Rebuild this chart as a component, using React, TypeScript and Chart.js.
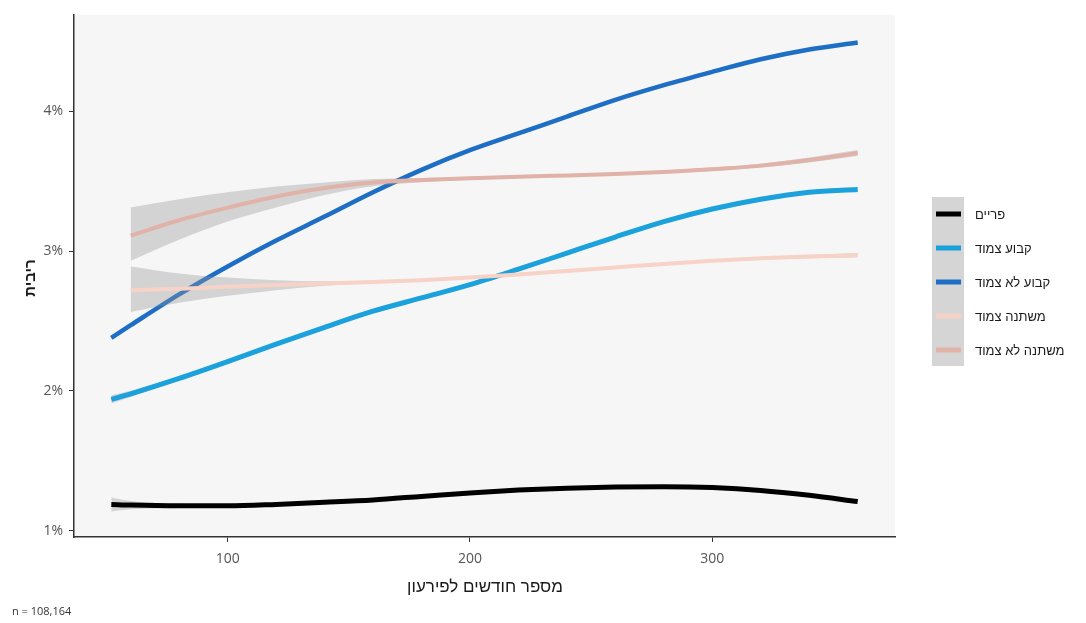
import { useEffect, useRef } from "react";
import { Chart, registerables } from "chart.js";

Chart.register(...registerables);

// Months to payoff (x) at which the smoothed curves are sampled
const months = [52, 60, 80, 100, 120, 140, 160, 180, 200, 220, 240, 260, 280, 300, 320, 340, 360];

// Smoothed interest rate (%) per mortgage track; null = no estimate at that term
const prime = [1.19, 1.185, 1.18, 1.18, 1.19, 1.205, 1.222, 1.247, 1.272, 1.292, 1.306, 1.314, 1.316, 1.31, 1.29, 1.255, 1.21];
const primeLow = [1.14, 1.155, 1.165, 1.171, 1.183, 1.199, 1.216, 1.241, 1.266, 1.286, 1.3, 1.308, 1.31, 1.304, 1.283, 1.247, 1.2];
const primeHigh = [1.24, 1.215, 1.195, 1.189, 1.197, 1.211, 1.228, 1.253, 1.278, 1.298, 1.312, 1.32, 1.322, 1.316, 1.297, 1.263, 1.22];

const fixedIndexed = [1.94, 1.98, 2.09, 2.21, 2.335, 2.455, 2.57, 2.665, 2.76, 2.87, 2.985, 3.1, 3.21, 3.3, 3.37, 3.42, 3.44];
const fixedIndexedLow = [1.91, 1.958, 2.077, 2.202, 2.328, 2.449, 2.564, 2.659, 2.754, 2.864, 2.979, 3.094, 3.203, 3.292, 3.361, 3.408, 3.425];
const fixedIndexedHigh = [1.97, 2.002, 2.103, 2.218, 2.342, 2.461, 2.576, 2.671, 2.766, 2.876, 2.991, 3.106, 3.217, 3.308, 3.379, 3.432, 3.455];

const fixedNonIndexed = [2.38, 2.47, 2.69, 2.89, 3.075, 3.246, 3.42, 3.58, 3.72, 3.84, 3.96, 4.08, 4.185, 4.28, 4.37, 4.44, 4.49];
const fixedNonIndexedLow = [2.368, 2.461, 2.684, 2.885, 3.07, 3.241, 3.415, 3.575, 3.715, 3.835, 3.955, 4.074, 4.179, 4.274, 4.363, 4.431, 4.479];
const fixedNonIndexedHigh = [2.392, 2.479, 2.696, 2.895, 3.08, 3.251, 3.425, 3.585, 3.725, 3.845, 3.965, 4.086, 4.191, 4.286, 4.377, 4.449, 4.501];

const variableIndexed = [null, 2.72, 2.73, 2.745, 2.757, 2.768, 2.779, 2.792, 2.81, 2.832, 2.857, 2.883, 2.908, 2.93, 2.948, 2.96, 2.97];
const variableIndexedLow = [null, 2.565, 2.63, 2.68, 2.72, 2.752, 2.77, 2.785, 2.804, 2.826, 2.851, 2.877, 2.901, 2.922, 2.938, 2.948, 2.955];
const variableIndexedHigh = [null, 2.89, 2.84, 2.81, 2.792, 2.784, 2.788, 2.799, 2.816, 2.838, 2.863, 2.889, 2.915, 2.938, 2.958, 2.972, 2.985];

const variableNonIndexed = [null, 3.11, 3.22, 3.31, 3.39, 3.45, 3.49, 3.507, 3.52, 3.53, 3.54, 3.55, 3.565, 3.584, 3.61, 3.65, 3.7];
const variableNonIndexedLow = [null, 2.93, 3.08, 3.21, 3.31, 3.4, 3.462, 3.492, 3.509, 3.521, 3.531, 3.541, 3.555, 3.572, 3.596, 3.632, 3.678];
const variableNonIndexedHigh = [null, 3.31, 3.37, 3.42, 3.46, 3.49, 3.514, 3.522, 3.531, 3.539, 3.549, 3.559, 3.575, 3.596, 3.624, 3.668, 3.722];

const xTicks = [100, 200, 300];
const yTicks = [1, 2, 3, 4];

const xTitle = "מספר חודשים לפירעון";
const yTitle = "ריבית";
const caption = "n = 108,164";

const series = [
  { label: "פריים", values: prime, low: primeLow, high: primeHigh, color: "#000000", width: 5 },
  { label: "קבוע צמוד", values: fixedIndexed, low: fixedIndexedLow, high: fixedIndexedHigh, color: "#1ba1dc", width: 5 },
  { label: "קבוע לא צמוד", values: fixedNonIndexed, low: fixedNonIndexedLow, high: fixedNonIndexedHigh, color: "#1d6ec4", width: 4.5 },
  { label: "משתנה צמוד", values: variableIndexed, low: variableIndexedLow, high: variableIndexedHigh, color: "#f7d2c6", width: 4 },
  { label: "משתנה לא צמוד", values: variableNonIndexed, low: variableNonIndexedLow, high: variableNonIndexedHigh, color: "#e0b2a8", width: 4 },
];

const BAND = "rgba(150,150,150,0.36)";

function toPoints(arr: (number | null)[]) {
  const pts: { x: number; y: number }[] = [];
  arr.forEach((v, i) => {
    if (v !== null) pts.push({ x: months[i], y: v });
  });
  return pts;
}

// Each track: ribbon (upper filled down to lower) then its curve, track by track,
// so a later track's ribbon lies over earlier curves.
function buildDatasets() {
  const sets: any[] = [];
  const n = series.length;
  series.forEach((s, i) => {
    const base = (n - i) * 10;
    const lowerIndex = sets.length + 1;
    sets.push({
      label: s.label + " high",
      data: toPoints(s.high),
      borderWidth: 0,
      pointRadius: 0,
      backgroundColor: BAND,
      fill: lowerIndex,
      cubicInterpolationMode: "monotone",
      order: base + 2,
    });
    sets.push({
      label: s.label + " low",
      data: toPoints(s.low),
      borderWidth: 0,
      pointRadius: 0,
      fill: false,
      cubicInterpolationMode: "monotone",
      order: base + 1,
    });
    sets.push({
      label: s.label,
      data: toPoints(s.values),
      borderColor: s.color,
      borderWidth: s.width,
      pointRadius: 0,
      fill: false,
      cubicInterpolationMode: "monotone",
      borderCapStyle: "butt",
      order: base,
    });
  });
  return sets;
}

const decorations = {
  id: "decorations",
  beforeDraw(chart: any) {
    const { ctx, chartArea } = chart;
    ctx.save();
    ctx.fillStyle = "#ffffff";
    ctx.fillRect(0, 0, chart.width, chart.height);
    ctx.fillStyle = "#f6f6f6";
    ctx.fillRect(chartArea.left, chartArea.top, chartArea.right - chartArea.left, chartArea.bottom - chartArea.top);
    ctx.restore();
  },
  afterDraw(chart: any) {
    const { ctx } = chart;
    ctx.save();
    // legend: grey key column with line swatches
    ctx.fillStyle = "#d5d5d5";
    ctx.fillRect(932, 197, 32, 169);
    series.forEach((s, i) => {
      const y = 214 + i * 34;
      ctx.strokeStyle = s.color;
      ctx.lineWidth = 5;
      ctx.beginPath();
      ctx.moveTo(936, y);
      ctx.lineTo(961, y);
      ctx.stroke();
      ctx.fillStyle = "#1a1a1a";
      ctx.font = "13px 'Liberation Sans', 'DejaVu Sans', sans-serif";
      ctx.textAlign = "left";
      ctx.textBaseline = "middle";
      ctx.fillText(s.label, 975, y + 1);
    });

    // axis titles
    ctx.fillStyle = "#1a1a1a";
    ctx.font = "17px 'Liberation Sans', 'DejaVu Sans', sans-serif";
    ctx.textAlign = "center";
    ctx.textBaseline = "middle";
    ctx.fillText(xTitle, 485, 587);

    ctx.save();
    ctx.translate(31, 278);
    ctx.rotate(-Math.PI / 2);
    ctx.font = "bold 15px 'Liberation Sans', 'DejaVu Sans', sans-serif";
    ctx.fillText(yTitle, 0, 0);
    ctx.restore();

    // caption
    ctx.font = "11px 'Open Sans', 'DejaVu Sans', sans-serif";
    ctx.fillStyle = "#333333";
    ctx.textAlign = "left";
    ctx.fillText(caption, 12, 612);
    ctx.restore();
  },
};

export default function App() {
  const ref = useRef<HTMLCanvasElement>(null);

  useEffect(() => {
    document.body.style.margin = "0";
    const canvas = ref.current;
    if (!canvas) return;
    const chart = new Chart(canvas, {
      type: "line",
      data: { datasets: buildDatasets() },
      options: {
        responsive: false,
        animation: false,
        devicePixelRatio: 1,
        layout: { padding: { top: 15, right: 191, left: 0, bottom: 0 } },
        plugins: {
          legend: { display: false },
          tooltip: { enabled: false },
          filler: { propagate: false, drawTime: "beforeDatasetDraw" },
        },
        scales: {
          x: {
            type: "linear",
            min: 36.6,
            max: 375.4,
            afterBuildTicks: (scale: any) => {
              scale.ticks = xTicks.map((v) => ({ value: v }));
            },
            afterFit: (scale: any) => {
              scale.height = 86;
            },
            grid: { drawOnChartArea: false, drawTicks: true, tickLength: 5, color: "#333333", lineWidth: 1 },
            border: { display: true, color: "#333333", width: 1.5 },
            ticks: {
              padding: 9,
              color: "#555555",
              font: { family: "'Open Sans', 'DejaVu Sans', sans-serif", size: 14 },
              maxRotation: 0,
            },
          },
          y: {
            type: "linear",
            min: 0.957,
            max: 4.686,
            afterBuildTicks: (scale: any) => {
              scale.ticks = yTicks.map((v) => ({ value: v }));
            },
            afterFit: (scale: any) => {
              scale.width = 74;
            },
            grid: { drawOnChartArea: false, drawTicks: true, tickLength: 5, color: "#333333", lineWidth: 1 },
            border: { display: true, color: "#333333", width: 1.5 },
            ticks: {
              padding: 6,
              color: "#555555",
              font: { family: "'Open Sans', 'DejaVu Sans', sans-serif", size: 14 },
              callback: (v: any) => `${v}%`,
            },
          },
        },
      },
      plugins: [decorations],
    });
    return () => chart.destroy();
  }, []);

  return (
    <div style={{ width: 1086, height: 623 }}>
      <canvas ref={ref} width={1086} height={623} style={{ display: "block" }} />
    </div>
  );
}
